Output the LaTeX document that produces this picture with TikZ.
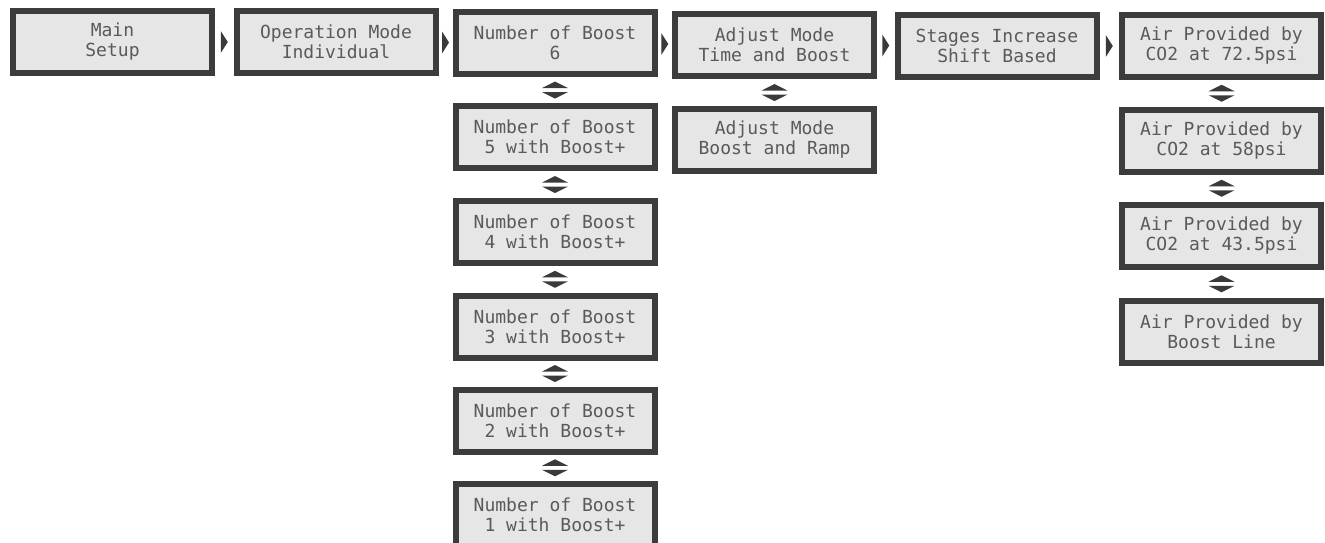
\documentclass[tikz,border=0pt]{standalone}
\usepackage{fontspec}
\newfontfamily\lcdfont{DejaVu Sans Mono}
\definecolor{boxc}{HTML}{3C3C3C}
\definecolor{fillc}{HTML}{E6E6E6}
\definecolor{txtc}{HTML}{5A5A5A}
\definecolor{arrc}{HTML}{3A3A3A}
\tikzset{
  lcd/.style={draw=boxc, line width=6pt, fill=fillc, minimum width=199pt,
    minimum height=62pt, inner sep=0pt, align=center, text=txtc,
    font=\lcdfont\fontsize{18}{20}\selectfont},
  rtri/.pic={\fill[arrc] (-3.5,-11) -- (3.5,0) -- (-3.5,11) -- cycle;},
  udtri/.pic={\fill[arrc] (-13,-2) -- (13,-2) -- (0,-8.5) -- cycle;
              \fill[arrc] (-13,2) -- (13,2) -- (0,8.5) -- cycle;}
}
\begin{document}
\begin{tikzpicture}[x=1pt,y=-1pt]
\useasboundingbox (0,0) rectangle (1325,542);
\clip (0,0) rectangle (1325,542);
% column 1-2
\node[lcd] (m1) at (112.5,42) {Main\\Setup};
\node[lcd] (m2) at (336,42) {Operation Mode\\Individual};
% column 3
\node[lcd] (b6) at (555,43) {Number of Boost\\6};
\node[lcd] (b5) at (555,137) {Number of Boost\\5 with Boost+};
\node[lcd] (b4) at (555,232) {Number of Boost\\4 with Boost+};
\node[lcd] (b3) at (555,326.5) {Number of Boost\\3 with Boost+};
\node[lcd] (b2) at (555,420.5) {Number of Boost\\2 with Boost+};
\node[lcd] (b1) at (555,515) {Number of Boost\\1 with Boost+};
% column 4
\node[lcd] (a1) at (774.5,45) {Adjust Mode\\Time and Boost};
\node[lcd] (a2) at (774.5,140) {Adjust Mode\\Boost and Ramp};
% column 5
\node[lcd] (s1) at (997,46) {Stages Increase\\Shift Based};
% column 6
\node[lcd] (p1) at (1221.5,46) {Air Provided by\\CO2 at 72.5psi};
\node[lcd] (p2) at (1221.5,140.5) {Air Provided by\\CO2 at 58psi};
\node[lcd] (p3) at (1221.5,236) {Air Provided by\\CO2 at 43.5psi};
\node[lcd] (p4) at (1221.5,331.5) {Air Provided by\\Boost Line};
% right arrows
\path (m1) -- (m2) pic[midway] {rtri};
\path (m2) -- (b6) pic[midway] {rtri};
\path (b6) -- (a1) pic[midway] {rtri};
\path (a1) -- (s1) pic[midway] {rtri};
\path (s1) -- (p1) pic[midway] {rtri};
% up/down arrows
\path (b6) -- (b5) pic[midway] {udtri};
\path (b5) -- (b4) pic[midway] {udtri};
\path (b4) -- (b3) pic[midway] {udtri};
\path (b3) -- (b2) pic[midway] {udtri};
\path (b2) -- (b1) pic[midway] {udtri};
\path (a1) -- (a2) pic[midway] {udtri};
\path (p1) -- (p2) pic[midway] {udtri};
\path (p2) -- (p3) pic[midway] {udtri};
\path (p3) -- (p4) pic[midway] {udtri};
\end{tikzpicture}
\end{document}
